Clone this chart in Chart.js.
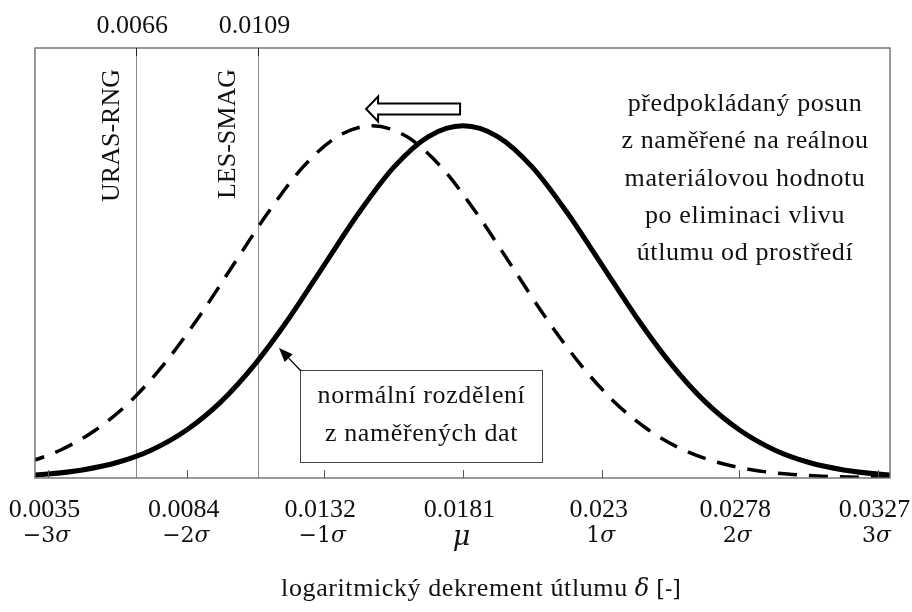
<!DOCTYPE html>
<html>
<head>
<meta charset="utf-8">
<script src="https://cdn.jsdelivr.net/npm/chart.js@4/dist/chart.umd.min.js"></script>
<style>
  html, body { margin: 0; padding: 0; background: #fff; }
  #wrap { width: 912px; height: 612px; }
</style>
</head>
<body>
<div id="wrap"><canvas id="c" width="912" height="612"></canvas></div>
<script>
// Axis ticks: mean ± k·sigma of the measured damping decrement
const tickValues = [0.0035, 0.0084, 0.0132, 0.0181, 0.023, 0.0278, 0.0327];
const tickLabels = ['0.0035', '0.0084', '0.0132', '0.0181', '0.023', '0.0278', '0.0327'];
const sigmaLabels = ['−3σ', '−2σ', '−1σ', 'μ', '1σ', '2σ', '3σ'];

// Simulated values marked by vertical lines
const markerValues = [0.0066, 0.0109];
const markerLabels = ['0.0066', '0.0109'];
const markerNames = ['URAS-RNG', 'LES-SMAG'];

// Distribution parameters
const muMeasured = 0.0181;
const muShifted = 0.0149;
const sigma = 0.00487;

// Probability density sampled every quarter sigma
const sigmaOffsets = [-3.75, -3.5, -3.25, -3, -2.75, -2.5, -2.25, -2, -1.75, -1.5, -1.25, -1, -0.75, -0.5, -0.25, 0,
                      0.25, 0.5, 0.75, 1, 1.25, 1.5, 1.75, 2, 2.25, 2.5, 2.75, 3, 3.25, 3.5, 3.75];
const densityMeasured = [0.07, 0.18, 0.42, 0.91, 1.87, 3.60, 6.52, 11.1, 17.7, 26.6, 37.5, 49.7, 61.8, 72.3, 79.4, 81.9,
                         79.4, 72.3, 61.8, 49.7, 37.5, 26.6, 17.7, 11.1, 6.52, 3.60, 1.87, 0.91, 0.42, 0.18, 0.07];
const densityShifted = [0.07, 0.18, 0.42, 0.91, 1.87, 3.60, 6.52, 11.1, 17.7, 26.6, 37.5, 49.7, 61.8, 72.3, 79.4, 81.9,
                        79.4, 72.3, 61.8, 49.7, 37.5, 26.6, 17.7, 11.1, 6.52, 3.60, 1.87, 0.91, 0.42, 0.18, 0.07];

// Right-hand explanatory note
const noteLines = ['předpokládaný posun', 'z naměřené na reálnou', 'materiálovou hodnotu', 'po eliminaci vlivu', 'útlumu od prostředí'];
const boxLines = ['normální rozdělení', 'z naměřených dat'];

const measuredPoints = sigmaOffsets.map((k, i) => ({ x: muMeasured + k * sigma, y: densityMeasured[i] }));
const shiftedPoints = sigmaOffsets.map((k, i) => ({ x: muShifted + k * sigma, y: densityShifted[i] }));

const SERIF = '"Liberation Serif", "Times New Roman", serif';
const MATH = '"DejaVu Serif", serif';

function spaced(ctx, px) { if ('letterSpacing' in ctx) ctx.letterSpacing = px + 'px'; }

const decor = {
  id: 'decor',
  beforeDatasetsDraw(chart) {
    const { ctx, chartArea: a, scales: { x } } = chart;
    ctx.save();
    ctx.strokeStyle = '#8a8a8a';
    ctx.lineWidth = 1;
    markerValues.forEach(v => {
      const px = Math.round(x.getPixelForValue(v)) + 0.5;
      ctx.beginPath(); ctx.moveTo(px, a.top); ctx.lineTo(px, a.bottom); ctx.stroke();
    });
    ctx.restore();
  },
  afterDatasetsDraw(chart) {
    const { ctx, chartArea: a, scales: { x } } = chart;
    ctx.save();

    // frame
    ctx.strokeStyle = '#6e6e6e';
    ctx.lineWidth = 1.4;
    ctx.strokeRect(a.left, a.top, a.right - a.left, a.bottom - a.top);

    // inward ticks on the bottom axis
    ctx.strokeStyle = '#555';
    ctx.lineWidth = 1;
    tickValues.forEach(v => {
      const px = Math.round(x.getPixelForValue(v)) + 0.5;
      ctx.beginPath(); ctx.moveTo(px, a.bottom); ctx.lineTo(px, a.bottom - 8); ctx.stroke();
    });
    // short dark ticks on top of marker lines
    ctx.strokeStyle = '#222';
    markerValues.forEach(v => {
      const px = Math.round(x.getPixelForValue(v)) + 0.5;
      ctx.beginPath(); ctx.moveTo(px, a.top); ctx.lineTo(px, a.top + 8); ctx.stroke();
    });

    ctx.fillStyle = '#111';
    ctx.textBaseline = 'alphabetic';
    ctx.textAlign = 'center';

    // numeric tick labels
    ctx.font = '26px ' + SERIF;
    tickValues.forEach((v, i) => {
      ctx.fillText(tickLabels[i], x.getPixelForValue(v) - 3.5, a.bottom + 39);
    });

    // sigma labels
    tickValues.forEach((v, i) => {
      const px = x.getPixelForValue(v) - 1.5;
      const lab = sigmaLabels[i];
      if (lab === 'μ') {
        ctx.font = 'italic 27px ' + MATH;
        ctx.textAlign = 'center';
        ctx.fillText(lab, px, a.bottom + 67);
        return;
      }
      const num = lab.slice(0, -1);
      ctx.font = '22px ' + MATH;
      const w1 = ctx.measureText(num).width;
      ctx.font = 'italic 22px ' + MATH;
      const w2 = ctx.measureText('σ').width;
      const start = px - (w1 + w2) / 2;
      ctx.textAlign = 'left';
      ctx.font = '22px ' + MATH;
      ctx.fillText(num, start, a.bottom + 64);
      ctx.font = 'italic 22px ' + MATH;
      ctx.fillText('σ', start + w1, a.bottom + 64);
    });

    // marker value labels above the frame
    ctx.textAlign = 'center';
    ctx.font = '26px ' + SERIF;
    markerValues.forEach((v, i) => {
      ctx.fillText(markerLabels[i], x.getPixelForValue(v) - 4, a.top - 15);
    });

    // rotated method names
    const nameShift = [-24, -30];
    markerValues.forEach((v, i) => {
      ctx.save();
      ctx.translate(x.getPixelForValue(v) + nameShift[i], a.top + 21);
      ctx.rotate(-Math.PI / 2);
      ctx.textAlign = 'right';
      ctx.textBaseline = 'middle';
      ctx.font = '26px ' + SERIF;
      ctx.fillText(markerNames[i], 0, 0);
      ctx.restore();
    });

    // hollow arrow showing the expected shift of the mean
    const tip = x.getPixelForValue(muShifted) - 6;
    const tail = x.getPixelForValue(muMeasured) - 3;
    const ay = 109;
    ctx.beginPath();
    ctx.moveTo(tip, ay);
    ctx.lineTo(tip + 12, ay - 12.5);
    ctx.lineTo(tip + 12, ay - 5.5);
    ctx.lineTo(tail, ay - 5.5);
    ctx.lineTo(tail, ay + 5.5);
    ctx.lineTo(tip + 12, ay + 5.5);
    ctx.lineTo(tip + 12, ay + 12.5);
    ctx.closePath();
    ctx.fillStyle = '#fff';
    ctx.fill();
    ctx.strokeStyle = '#000';
    ctx.lineWidth = 2;
    ctx.lineJoin = 'miter';
    ctx.stroke();

    // callout box for the measured distribution
    const bx = 300.5, by = 370.5, bw = 242, bh = 92;
    ctx.fillStyle = '#fff';
    ctx.fillRect(bx, by, bw, bh);
    ctx.strokeStyle = '#444';
    ctx.lineWidth = 1;
    ctx.strokeRect(bx, by, bw, bh);
    ctx.fillStyle = '#111';
    ctx.font = '26px ' + SERIF;
    ctx.textAlign = 'center';
    spaced(ctx, 0.6);
    ctx.fillText(boxLines[0], bx + bw / 2, 403);
    ctx.fillText(boxLines[1], bx + bw / 2, 441);
    spaced(ctx, 0);

    // pointer from the box to the solid curve
    const sx = 301, sy = 371, ex = 279, ey = 348;
    const ang = Math.atan2(ey - sy, ex - sx);
    const hl = 14, hw = 5.5;
    const bxh = ex - hl * Math.cos(ang), byh = ey - hl * Math.sin(ang);
    ctx.strokeStyle = '#000';
    ctx.lineWidth = 1.3;
    ctx.beginPath(); ctx.moveTo(sx, sy); ctx.lineTo(bxh, byh); ctx.stroke();
    ctx.fillStyle = '#000';
    ctx.beginPath();
    ctx.moveTo(ex, ey);
    ctx.lineTo(bxh + hw * Math.sin(ang), byh - hw * Math.cos(ang));
    ctx.lineTo(bxh - hw * Math.sin(ang), byh + hw * Math.cos(ang));
    ctx.closePath();
    ctx.fill();

    // note on the right
    ctx.fillStyle = '#111';
    ctx.font = '26px ' + SERIF;
    ctx.textAlign = 'center';
    spaced(ctx, 0.6);
    noteLines.forEach((t, i) => ctx.fillText(t, 745, 111 + i * 37.3));
    spaced(ctx, 0);

    // axis title
    const p1 = 'logaritmický dekrement útlumu ';
    const p2 = 'δ';
    const p3 = ' [-]';
    ctx.font = '26px ' + SERIF; spaced(ctx, 0.6);
    const w1 = ctx.measureText(p1).width;
    spaced(ctx, 0);
    ctx.font = 'italic 24px ' + MATH;
    const w2 = ctx.measureText(p2).width;
    ctx.font = '22px ' + MATH;
    const w3 = ctx.measureText(p3).width;
    let tx = 481 - (w1 + w2 + w3) / 2;
    ctx.textAlign = 'left';
    ctx.font = '26px ' + SERIF; spaced(ctx, 0.6);
    ctx.fillText(p1, tx, 596); tx += w1;
    spaced(ctx, 0);
    ctx.font = 'italic 24px ' + MATH;
    ctx.fillText(p2, tx, 596); tx += w2;
    ctx.font = '22px ' + MATH;
    ctx.fillText(p3, tx, 596);

    ctx.restore();
  }
};

new Chart(document.getElementById('c'), {
  type: 'line',
  data: {
    datasets: [
      {
        data: shiftedPoints,
        borderColor: '#000',
        borderWidth: 3.5,
        borderDash: [19, 12],
        pointRadius: 0,
        fill: false,
        cubicInterpolationMode: 'monotone',
        clip: 0
      },
      {
        data: measuredPoints,
        borderColor: '#000',
        borderWidth: 5,
        pointRadius: 0,
        fill: false,
        cubicInterpolationMode: 'monotone',
        clip: 0
      }
    ]
  },
  options: {
    responsive: false,
    animation: false,
    devicePixelRatio: 1,
    layout: { padding: { left: 35, right: 22, top: 48, bottom: 134 } },
    scales: {
      x: { type: 'linear', min: 0.00304, max: 0.03312, display: false },
      y: { type: 'linear', min: 0, max: 100, display: false }
    },
    plugins: { legend: { display: false }, tooltip: { enabled: false }, title: { display: false } },
    events: []
  },
  plugins: [decor]
});
</script>
</body>
</html>
